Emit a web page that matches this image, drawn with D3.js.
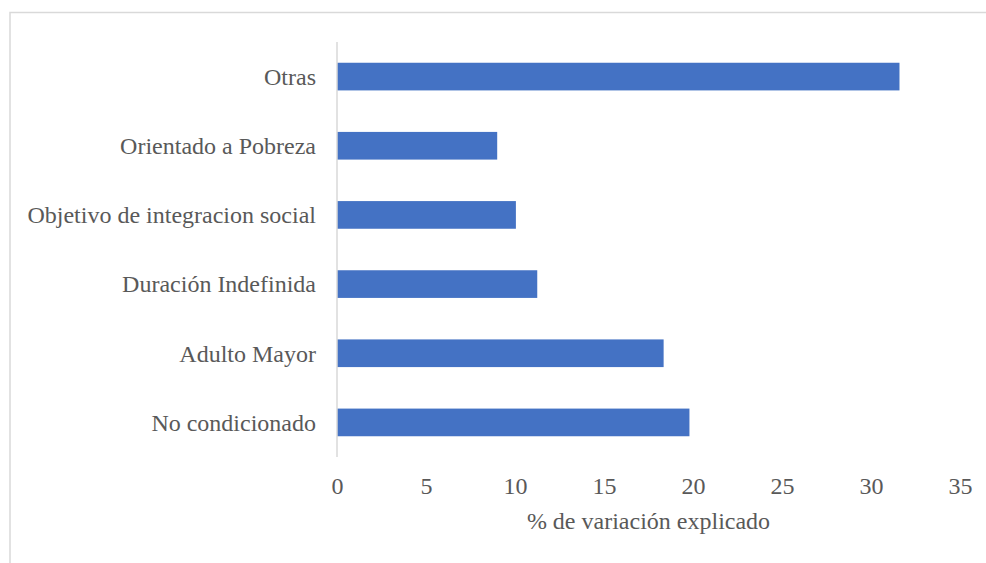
<!DOCTYPE html>
<meta charset="UTF-8">
<body style="margin:0; background:#fff">
<script src="https://d3js.org/d3.v7.min.js"></script>
<script>

// categories, top to bottom
var categories = ["Otras", "Orientado a Pobreza", "Objetivo de integracion social",
                  "Duración Indefinida", "Adulto Mayor", "No condicionado"];
var values = [31.6, 9.0, 10.05, 11.25, 18.35, 19.8];
var ticks = [0, 5, 10, 15, 20, 25, 30, 35];

var width = 986, height = 563;
var margin = {top: 42, left: 337, right: 26, bottom: 106};
var FONT = "'Liberation Serif', 'Times New Roman', serif";
var TEXT = "#595959";

var svg = d3.select("body").append("svg")
    .attr("width", width)
    .attr("height", height);

// chart border (runs off the right / bottom edge)
svg.append("rect")
    .attr("x", 10).attr("y", 12.5)
    .attr("width", 1000).attr("height", 600)
    .attr("fill", "none")
    .attr("stroke", "#d9d9d9")
    .attr("stroke-width", 1.5);

var x = d3.scaleLinear().domain([0, 35]).range([margin.left, width - margin.right]);
var y = d3.scaleBand().domain(categories)
    .range([margin.top, height - margin.bottom])
    .paddingInner(0.6).paddingOuter(0.3);

// bars
svg.selectAll("rect.bar")
    .data(values)
    .enter().append("rect")
    .attr("class", "bar")
    .attr("x", x(0))
    .attr("y", function(d, i) { return y(categories[i]); })
    .attr("width", function(d) { return x(d) - x(0); })
    .attr("height", y.bandwidth())
    .attr("fill", "#4472c4");

// vertical category axis line
svg.append("line")
    .attr("x1", x(0)).attr("x2", x(0))
    .attr("y1", margin.top).attr("y2", height - margin.bottom)
    .attr("stroke", "#d9d9d9")
    .attr("stroke-width", 1.5);

// category labels
svg.selectAll("text.cat")
    .data(categories)
    .enter().append("text")
    .attr("class", "cat")
    .attr("x", 316)
    .attr("y", function(d) { return y(d) + y.bandwidth() / 2; })
    .attr("dy", "0.35em")
    .attr("text-anchor", "end")
    .style("font-family", FONT)
    .style("font-size", "24px")
    .style("fill", TEXT)
    .text(function(d) { return d; });

// value axis (labels only)
var xAxis = svg.append("g")
    .attr("transform", "translate(0," + (height - margin.bottom) + ")")
    .call(d3.axisBottom(x).tickValues(ticks).tickSize(0).tickPadding(20));
xAxis.select(".domain").remove();
xAxis.selectAll("text")
    .style("font-family", FONT)
    .style("font-size", "24px")
    .style("fill", TEXT);

svg.append("text")
    .attr("x", (x(0) + x(35)) / 2)
    .attr("y", 529)
    .attr("text-anchor", "middle")
    .style("font-family", FONT)
    .style("font-size", "24px")
    .style("fill", TEXT)
    .text("% de variación explicado");

</script>
</body>
